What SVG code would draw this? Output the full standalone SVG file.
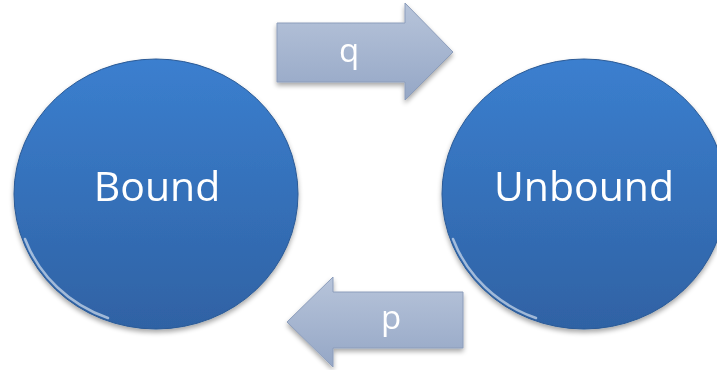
<svg xmlns="http://www.w3.org/2000/svg" width="717" height="370" viewBox="0 0 717 370">
<style>
.lbl{font-family:"Open Sans","Noto Sans","Liberation Sans",sans-serif;fill:#ffffff;text-anchor:middle}
.big{font-size:41px}
.small{font-size:33px}
.circ{fill:url(#cg);stroke:#2a5a96;stroke-width:1}
.hl{fill:none;stroke:#ffffff;stroke-opacity:0.55;stroke-width:2.5;stroke-linecap:round}
.arr{fill:url(#ag);stroke:#8c9dbb;stroke-width:1}
</style>
<defs>
<linearGradient id="cg" x1="0" y1="0" x2="0" y2="1">
<stop offset="0" stop-color="#3b7fcf"/>
<stop offset="1" stop-color="#2f62a4"/>
</linearGradient>
<linearGradient id="ag" x1="0" y1="0" x2="0" y2="1">
<stop offset="0" stop-color="#b7c4da"/>
<stop offset="1" stop-color="#95a7c6"/>
</linearGradient>
<filter id="sh" x="-10%" y="-10%" width="120%" height="125%">
<feGaussianBlur in="SourceAlpha" stdDeviation="2.5"/>
<feOffset dx="0" dy="3" result="b"/>
<feComponentTransfer><feFuncA type="linear" slope="0.35"/></feComponentTransfer>
<feMerge><feMergeNode/><feMergeNode in="SourceGraphic"/></feMerge>
</filter>
</defs>
<g id="bound" filter="url(#sh)">
<ellipse class="circ" cx="156" cy="194" rx="142" ry="135"/>
<path class="hl" d="M25,239 A139,132 0 0 0 108,318"/>
<text class="lbl big" x="157" y="201">Bound</text>
</g>
<g id="unbound" filter="url(#sh)">
<ellipse class="circ" cx="584" cy="194" rx="142" ry="135"/>
<path class="hl" d="M453,239 A139,132 0 0 0 536,318"/>
<text class="lbl big" x="584" y="201">Unbound</text>
</g>
<g id="connectors">
<g id="q" filter="url(#sh)">
<path class="arr" d="M277,23 H405 V3 L453,52 L405,100 V82 H277 Z"/>
<text class="lbl small" x="349" y="62">q</text>
</g>
<g id="p" filter="url(#sh)">
<path class="arr" d="M463,292 H333 V277 L287,322 L333,367 V348 H463 Z"/>
<text class="lbl small" x="391" y="329">p</text>
</g>
</g>
</svg>
